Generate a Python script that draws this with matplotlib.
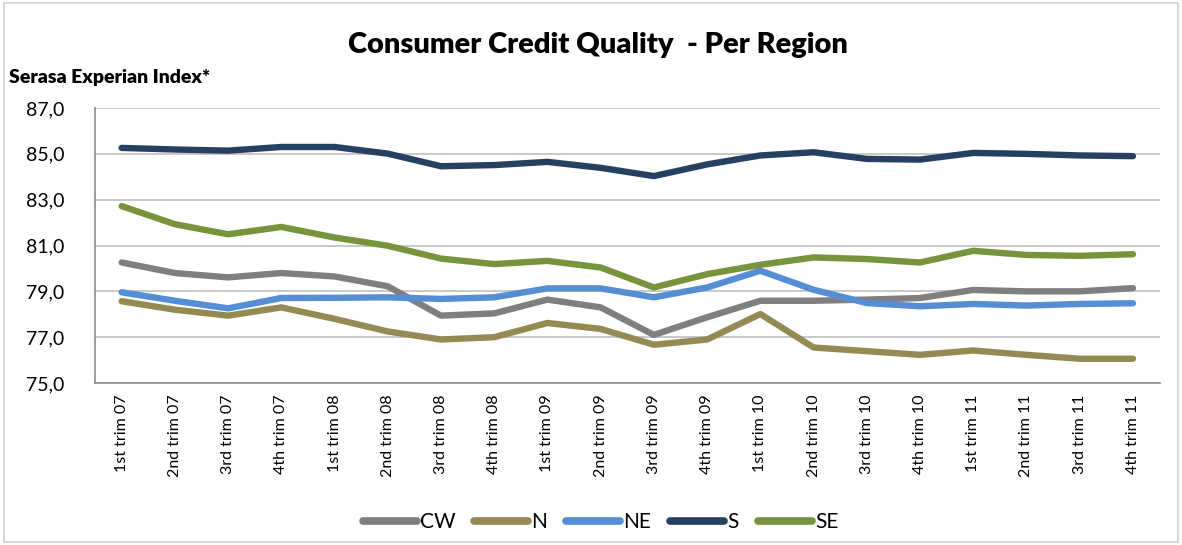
import matplotlib
matplotlib.use("Agg")
import matplotlib.pyplot as plt
from matplotlib.patches import Rectangle
from matplotlib.ticker import FuncFormatter

plt.rcParams['font.family'] = ['Lato', 'DejaVu Sans']

categories = ["1st trim 07", "2nd trim 07", "3rd trim 07", "4th trim 07",
              "1st trim 08", "2nd trim 08", "3rd trim 08", "4th trim 08",
              "1st trim 09", "2nd trim 09", "3rd trim 09", "4th trim 09",
              "1st trim 10", "2nd trim 10", "3rd trim 10", "4th trim 10",
              "1st trim 11", "2nd trim 11", "3rd trim 11", "4th trim 11"]

cw = [80.26, 79.80, 79.61, 79.80, 79.65, 79.22, 77.94, 78.04, 78.64, 78.30,
      77.10, 77.87, 78.59, 78.59, 78.64, 78.71, 79.06, 79.00, 79.00, 79.14]
n = [78.57, 78.20, 77.94, 78.30, 77.80, 77.25, 76.90, 77.00, 77.62, 77.36,
     76.67, 76.90, 78.01, 76.55, 76.39, 76.23, 76.42, 76.23, 76.06, 76.06]
ne = [78.96, 78.59, 78.26, 78.71, 78.72, 78.74, 78.67, 78.74, 79.13, 79.13,
      78.74, 79.17, 79.90, 79.07, 78.49, 78.35, 78.45, 78.38, 78.45, 78.48]
s = [85.26, 85.19, 85.14, 85.30, 85.30, 85.01, 84.46, 84.51, 84.65, 84.39,
     84.03, 84.54, 84.93, 85.07, 84.78, 84.75, 85.04, 85.00, 84.93, 84.90]
se = [82.72, 81.93, 81.49, 81.81, 81.35, 80.99, 80.43, 80.19, 80.33, 80.04,
      79.17, 79.75, 80.16, 80.48, 80.41, 80.26, 80.77, 80.59, 80.55, 80.62]

series = [("CW", cw, "#7f7f7f"), ("N", n, "#948a54"), ("NE", ne, "#558ed5"),
          ("S", s, "#254061"), ("SE", se, "#77933c")]

fig = plt.figure(figsize=(11.82, 5.45), dpi=100)
ax = fig.add_axes([0.0804, 0.2972, 0.9006, 0.5046])

x = list(range(len(categories)))
for name, vals, col in series:
    ax.plot(x, vals, color=col, lw=4.6, label=name, solid_capstyle='round',
            solid_joinstyle='round')

ax.set_xlim(-0.5, len(categories) - 0.5)
ax.set_ylim(75, 87)
ax.set_yticks([75, 77, 79, 81, 83, 85, 87])
ax.yaxis.set_major_formatter(FuncFormatter(lambda v, p: f"{v:.1f}".replace(".", ",")))
ax.set_xticks(x)
ax.set_xticklabels(categories, rotation=90, fontsize=11.5)
ax.tick_params(axis='y', labelsize=14, length=0, pad=22)
ax.tick_params(axis='x', length=0, pad=8)
ax.grid(axis='y', color='#c0c0c0', lw=1.2)
ax.set_axisbelow(True)
for sp in ['top', 'right']:
    ax.spines[sp].set_visible(False)
for sp in ['left', 'bottom']:
    ax.spines[sp].set_color('#8c8c8c')
    ax.spines[sp].set_linewidth(1.2)

fig.text(0.506, 0.918, "Consumer Credit Quality  - Per Region", ha='center', va='center',
         fontsize=21, fontweight='heavy')
fig.text(0.008, 0.857, "Serasa Experian Index*", ha='left', va='center',
         fontsize=14, fontweight='heavy')

leg = fig.legend(loc='center', bbox_to_anchor=(0.508, 0.042), ncol=5, frameon=False,
                 fontsize=15, handlelength=2.6, handletextpad=0.15, columnspacing=0.9)
for h in leg.get_lines():
    h.set_linewidth(5.5)
    h.set_solid_capstyle('round')

fig.patches.append(Rectangle((0.003, 0.005), 0.994, 0.99, transform=fig.transFigure,
                             fill=False, edgecolor='#d0d0d0', lw=1.2))

fig.savefig("out.png", dpi=100)
